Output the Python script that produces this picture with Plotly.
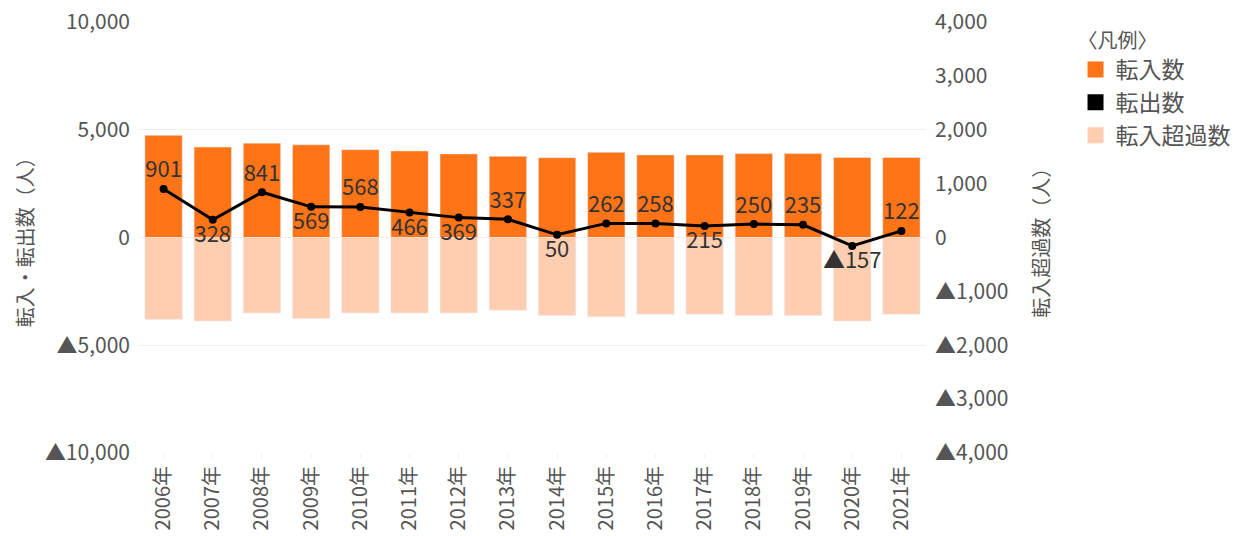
import plotly.graph_objects as go

years = ["2006年", "2007年", "2008年", "2009年", "2010年", "2011年", "2012年", "2013年",
         "2014年", "2015年", "2016年", "2017年", "2018年", "2019年", "2020年", "2021年"]
tennyu = [4740, 4195, 4377, 4303, 4076, 4015, 3879, 3773, 3705, 3955, 3833, 3833, 3894, 3894, 3712, 3712]
tenshutsu = [-3803, -3879, -3500, -3758, -3500, -3500, -3500, -3379, -3621, -3682, -3561, -3561, -3621, -3621, -3879, -3561]
chouka = [901, 328, 841, 569, 568, 466, 369, 337, 50, 262, 258, 215, 250, 235, -157, 122]
label_pos = ["top center", "bottom center", "top center", "bottom center", "top center", "bottom center",
             "bottom center", "top center", "bottom center", "top center", "top center", "bottom center",
             "top center", "top center", "bottom center", "top center"]

left_ticks = [10000, 5000, 0, -5000, -10000]
right_ticks = [4000, 3000, 2000, 1000, 0, -1000, -2000, -3000, -4000]


def fmt(v):
    return ("▲" if v < 0 else "") + f"{abs(v):,}"


ORANGE = "#FF7417"
PEACH = "#FFCDB0"
FONT = "Noto Sans CJK JP"
GREY = "#555555"

fig = go.Figure()
fig.add_trace(go.Bar(x=years, y=tennyu, marker_color=ORANGE, showlegend=False, yaxis="y"))
fig.add_trace(go.Bar(x=years, y=tenshutsu, marker_color=PEACH, showlegend=False, yaxis="y"))
fig.add_trace(go.Scatter(
    x=years, y=chouka, yaxis="y2", mode="lines+markers+text",
    line=dict(color="black", width=3), marker=dict(color="black", size=8),
    text=[fmt(v) for v in chouka], textposition=label_pos,
    textfont=dict(size=22, color="#333333", family=FONT), showlegend=False,
))

# legend entries as in the original
for name, col in [("転入数", ORANGE), ("転出数", "black"), ("転入超過数", PEACH)]:
    fig.add_trace(go.Scatter(x=[None], y=[None], mode="markers", name=name,
                             marker=dict(symbol="square", size=16, color=col)))

fig.add_shape(type="line", xref="paper", yref="y", x0=0, x1=1, y0=0, y1=0,
              line=dict(color="#444444", width=1, dash="dot"), layer="below")

# axis titles
fig.add_annotation(text="転入・転出数（人）", textangle=-90, xref="paper", yref="paper",
                   x=-0.166, y=0.5, showarrow=False, font=dict(size=20, color=GREY))
fig.add_annotation(text="転入超過数（人）", textangle=-90, xref="paper", yref="paper",
                   x=1.166, y=0.5, showarrow=False, font=dict(size=20, color=GREY))

fig.update_layout(
    width=1239, height=536,
    margin=dict(l=131, r=314, t=14, b=91),
    paper_bgcolor="white", plot_bgcolor="white",
    barmode="relative", bargap=0.24,
    font=dict(family=FONT, size=21, color=GREY),
    xaxis=dict(range=[-0.5, len(years) - 0.5], tickangle=-90, tickfont=dict(size=20, color=GREY),
               showgrid=False, automargin=False, ticks="outside", ticklen=4, tickcolor="#eeeeee"),
    yaxis=dict(range=[-10000, 10000], tickvals=left_ticks, ticktext=[fmt(v) for v in left_ticks],
               gridcolor="#f0f0f0", zeroline=False, automargin=False, ticklabeloverflow="allow",
               ticklabelstandoff=8, tickfont=dict(size=21, color=GREY)),
    yaxis2=dict(range=[-4000, 4000], overlaying="y", side="right", tickvals=right_ticks,
                ticktext=[fmt(v) for v in right_ticks], showgrid=False, zeroline=False,
                automargin=False, ticklabeloverflow="allow", ticklabelstandoff=8,
                tickfont=dict(size=21, color=GREY)),
    legend=dict(x=1.19, y=1.0, xanchor="left", yanchor="top",
                title=dict(text="〈凡例〉", font=dict(size=20, color=GREY)),
                font=dict(size=23, color=GREY), tracegroupgap=0),
)

fig.write_html("out.html")
